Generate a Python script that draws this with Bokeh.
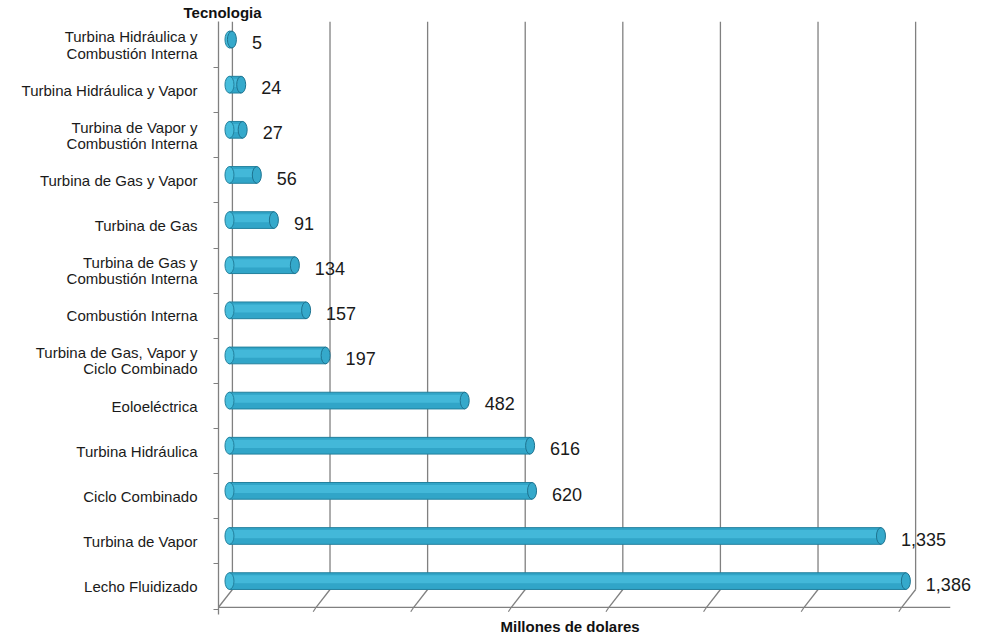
from bokeh.plotting import figure
from bokeh.models import Range1d, FixedTicker, ColumnDataSource, Title
from bokeh.core.properties import value
from bokeh.embed import file_html
from bokeh.resources import INLINE

# Investment by generation technology (millions of dollars), bottom to top
categories = [
    "Lecho Fluidizado",
    "Turbina de Vapor",
    "Ciclo Combinado",
    "Turbina Hidráulica",
    "Eoloeléctrica",
    "Turbina de Gas, Vapor y\nCiclo Combinado",
    "Combustión Interna",
    "Turbina de Gas y\nCombustión Interna",
    "Turbina de Gas",
    "Turbina de Gas y Vapor",
    "Turbina de Vapor y\nCombustión Interna",
    "Turbina Hidráulica y Vapor",
    "Turbina Hidráulica y\nCombustión Interna",
]
values = [1386, 1335, 620, 616, 482, 197, 157, 134, 91, 56, 27, 24, 5]
grid_values = [0, 200, 400, 600, 800, 1000, 1200, 1400]

FONT = "Liberation Sans"

ypos = list(range(len(categories)))
bar_y = [y + 0.12 for y in ypos]
src = ColumnDataSource(dict(
    y=ypos,
    lbl_y=[y + 0.05 for y in ypos],
    bar_y=bar_y,
    hl_y=[y + 0.04 for y in bar_y],
    v=values,
    lbl=[f"{v:,}" for v in values],
))

p = figure(
    width=984, height=635,
    x_range=Range1d(-22.5, 1528.7),
    y_range=Range1d(-0.62, 12.52),
    output_backend="svg", toolbar_location=None,
    min_border_left=218, min_border_right=9,
    min_border_top=0, min_border_bottom=0,
)
p.outline_line_color = None
p.xgrid.visible = False
p.ygrid.visible = False
p.xaxis.visible = False

# titles: category header above, value axis title below
p.title.text = "Tecnologia"
p.title.align = "left"
p.title.offset = -35
p.title.standoff = 2
p.title.text_font = FONT
p.title.text_font_size = "15px"
p.title.text_font_style = "bold"
p.title.text_color = "#111111"
p.add_layout(Title(text="Millones de dolares", align="left", offset=282, standoff=2,
                   text_font=FONT, text_font_size="15px", text_font_style="bold",
                   text_color="#111111"), "below")

# category axis
yax = p.yaxis[0]
yax.ticker = FixedTicker(ticks=ypos, minor_ticks=[y + 0.5 for y in ypos[:-1]] + [-0.5])
yax.major_label_overrides = {i: c for i, c in enumerate(categories)}
yax.major_tick_out = 0
yax.major_tick_in = 0
yax.minor_tick_out = 5
yax.minor_tick_in = 0
yax.minor_tick_line_color = "#808080"
yax.axis_line_color = "#808080"
yax.axis_line_width = 1.3
yax.major_label_standoff = 16
yax.major_label_text_font = FONT
yax.major_label_text_font_size = "15px"
yax.major_label_text_line_height = 0.95
yax.major_label_text_color = "#1a1a1a"

# 3D walls: back-plane gridlines, slanted floor edges, front floor line
back_dx, front_dx = 6, -22.5
floor_back, floor_front, top_y = -0.066, -0.46, 12.52
n = len(grid_values)
gx_back = [g + back_dx for g in grid_values]
gx_front = [g + front_dx for g in grid_values]
p.segment(x0=gx_back, y0=[floor_back] * n, x1=gx_back, y1=[top_y] * n,
          line_color="#808080", line_width=1.3)
p.segment(x0=gx_back, y0=[floor_back] * n, x1=gx_front, y1=[floor_front] * n,
          line_color="#808080", line_width=1.3)
p.segment(x0=gx_front, y0=[floor_front] * n, x1=[g - 6 for g in gx_front],
          y1=[floor_front - 0.1] * n, line_color="#808080", line_width=1.2)
p.segment(x0=[front_dx], y0=[floor_front], x1=[1477], y1=[floor_front],
          line_color="#808080", line_width=1.3)

# cylinder bars
p.hbar(y="bar_y", left=0, right="v", height=0.37, source=src,
       fill_color="#31a5c8", line_color="#22809d", line_width=1)
p.hbar(y="hl_y", left=0, right="v", height=0.18, source=src,
       fill_color="#4cc0df", fill_alpha=0.7, line_color=None)
p.ellipse(x=0, y="bar_y", width=9, height=0.37, width_units="screen", source=src,
          fill_color="#46bddc", line_color="#22809d", line_width=1)
p.ellipse(x="v", y="bar_y", width=9, height=0.37, width_units="screen", source=src,
          fill_color="#35a9cb", line_color="#1e7390", line_width=1)

# value labels
p.text(x="v", y="lbl_y", text="lbl", source=src, x_offset=20,
       text_font=value(FONT), text_font_size="18px", text_color="#1a1a1a",
       text_baseline="middle", text_align="left")

open("out.html", "w").write(file_html(p, INLINE))
